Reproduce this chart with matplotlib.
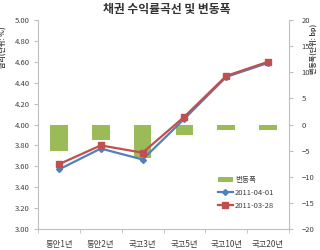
import matplotlib
matplotlib.use('Agg')
import matplotlib.pyplot as plt
import numpy as np

plt.rcParams['font.family'] = ['Noto Sans CJK KR', 'DejaVu Sans']

# data
categories = ['통안1년', '통안2년', '국고3년', '국고5년', '국고10년', '국고20년']
rate_0401 = [3.57, 3.77, 3.665, 4.055, 4.455, 4.59]
rate_0328 = [3.62, 3.80, 3.73, 4.075, 4.465, 4.60]
change_bp = [-5, -3, -6.5, -2, -1, -1]

blue = '#4F81BD'
red = '#C0504D'
green = '#9BBB59'
grey = '#BFBFBF'
txt = '#404040'

fig = plt.figure(figsize=(3.2, 2.5), dpi=100)
ax = fig.add_axes([0.119, 0.084, 0.784, 0.836])
ax2 = ax.twinx()
ax.set_zorder(ax2.get_zorder() + 1)
ax.patch.set_visible(False)

x = np.arange(len(categories))

# change bars on the right axis
bars = ax2.bar(x, change_bp, width=0.42, color=green, label='변동폭')
ax2.set_ylim(-20, 20)
ax2.set_yticks(np.arange(-20, 21, 5))

# yield curves on the left axis
l1, = ax.plot(x, rate_0401, color=blue, lw=1.6, marker='D', ms=3,
              label='2011-04-01')
l2, = ax.plot(x, rate_0328, color=red, lw=1.6, marker='s', ms=4,
              label='2011-03-28')
ax.set_ylim(3.0, 5.0)
ax.set_yticks(np.arange(3.0, 5.01, 0.2))
ax.set_yticklabels(['%.2f' % v for v in np.arange(3.0, 5.01, 0.2)])
ax.set_xlim(-0.5, len(categories) - 0.5)
ax.set_xticks(x)
ax.set_xticklabels(categories)
ax.set_xticks(np.arange(-0.5, len(categories), 1), minor=True)
ax.tick_params(axis='x', which='major', length=0, pad=8, labelsize=6, colors=txt)
ax.tick_params(axis='x', which='minor', length=3, color=grey)
ax.tick_params(axis='y', length=3, color=grey, labelsize=5.5, labelcolor=txt, pad=3)
ax2.tick_params(axis='y', length=3, color=grey, labelsize=5.5, labelcolor=txt, pad=6)

for a in (ax, ax2):
    for s in a.spines.values():
        s.set_visible(False)
ax.spines['left'].set_visible(True)
ax.spines['left'].set_color(grey)
ax.spines['bottom'].set_visible(True)
ax.spines['bottom'].set_color(grey)
ax2.spines['right'].set_visible(True)
ax2.spines['right'].set_color(grey)

ax.set_ylabel('금리(단위: %)', fontsize=5, fontweight='bold', color=txt, labelpad=2)
ax2.set_ylabel('변동폭(단위: bp)', fontsize=5, fontweight='bold', color=txt,
               rotation=90, labelpad=4)
ax.yaxis.set_label_coords(-0.127, 0.87)
ax2.yaxis.set_label_coords(1.083, 0.86)

fig.suptitle('채권 수익률곡선 및 변동폭', fontsize=8.5, fontweight='bold',
             color='#333333', x=0.52, y=0.99)

ax.legend([bars, l1, l2], ['변동폭', '2011-04-01', '2011-03-28'],
          loc='lower right', bbox_to_anchor=(0.97, 0.06), frameon=False,
          fontsize=5.5, handlelength=2, handletextpad=0.3, labelspacing=0.6,
          labelcolor=txt)

fig.savefig('out.png', dpi=100)
